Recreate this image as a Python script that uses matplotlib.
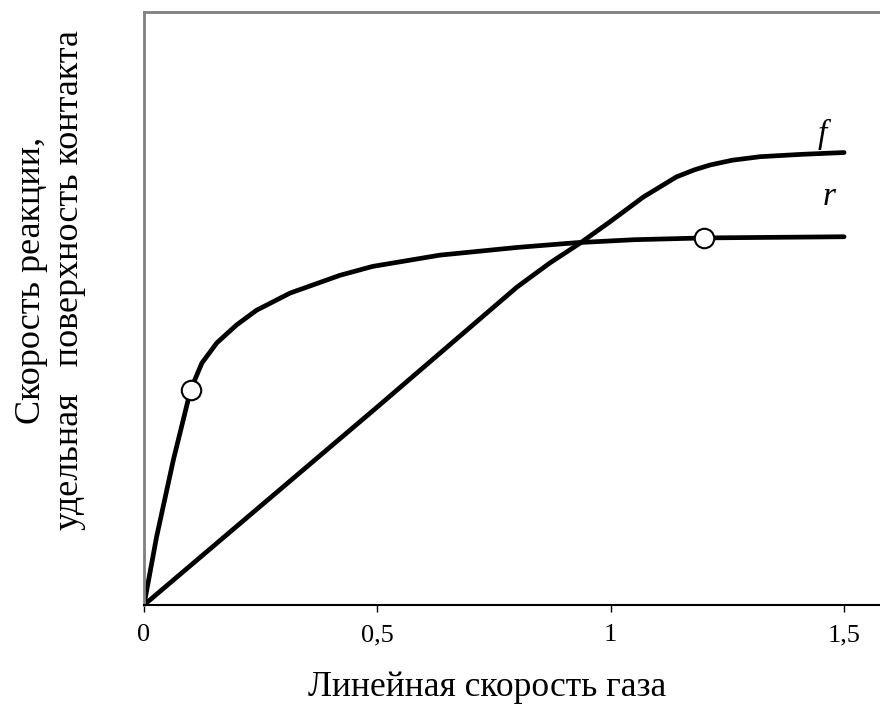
import numpy as np
import matplotlib
matplotlib.use('Agg')
import matplotlib.pyplot as plt

#==============================================================================
# data (arbitrary y units, top of plot = 1)
#==============================================================================

r_x = [0.0, 0.027, 0.063, 0.1, 0.124, 0.156, 0.198, 0.241, 0.313, 0.42,
       0.49, 0.634, 0.8, 0.927, 1.05, 1.2, 1.35, 1.5]
r_y = [0.0, 0.115, 0.245, 0.363, 0.408, 0.442, 0.472, 0.497, 0.526, 0.556,
       0.571, 0.590, 0.603, 0.611, 0.616, 0.619, 0.620, 0.621]

f_x = [0.0, 0.5, 0.799, 0.87, 0.934, 0.998, 1.07, 1.141, 1.18, 1.213,
       1.26, 1.32, 1.41, 1.5]
f_y = [0.0, 0.334, 0.536, 0.577, 0.610, 0.646, 0.688, 0.722, 0.734, 0.742,
       0.750, 0.756, 0.760, 0.763]

mark_x = [0.1, 1.2]
mark_y = [0.363, 0.619]

xticks = [0, 0.5, 1, 1.5]
xtick_labels = ['0', '0,5', '1', '1,5']

#==============================================================================
# styles
#==============================================================================

serif = ['Liberation Serif', 'DejaVu Serif']

line_style = {
    'linewidth':    3.4,
    'linestyle':    '-',
    'color':        'k',
    'solid_capstyle': 'round',
    'solid_joinstyle': 'round',
}

marker_style = {
    'linestyle':        'none',
    'marker':           'o',
    'markersize':       14,
    'markerfacecolor':  'white',
    'markeredgecolor':  'k',
    'markeredgewidth':  1.5,
    'zorder':           5,
}

#==============================================================================
# plot
#==============================================================================

fig = plt.figure(figsize=(8.8, 7.15), dpi=100)
ax = fig.add_axes([144 / 880, 110 / 715, 736 / 880, 593 / 715])

ax.plot(r_x, r_y, **line_style)
ax.plot(f_x, f_y, **line_style)
ax.plot(mark_x, mark_y, **marker_style)

ax.set_xlim(0, 736 / 466.7)
ax.set_ylim(0, 1)

ax.spines['right'].set_visible(False)
ax.spines['left'].set_color('#808080')
ax.spines['top'].set_color('#808080')
ax.spines['left'].set_linewidth(2)
ax.spines['top'].set_linewidth(2)
ax.spines['bottom'].set_color('k')
ax.spines['bottom'].set_linewidth(1.5)

ax.set_yticks([])
ax.set_xticks(xticks)
ax.set_xticklabels(xtick_labels, family=serif, fontsize=19)
ax.tick_params(axis='x', direction='out', length=5, width=1, pad=9)

# curve labels
ax.text(1.453, 0.793, 'f', family=serif, style='italic', fontsize=24,
        ha='center', va='center')
ax.text(1.468, 0.688, 'r', family=serif, style='italic', fontsize=24,
        ha='center', va='center')

# axis labels
fig.text(487 / 880, 1 - 688 / 715, 'Линейная скорость газа', family=serif,
         fontsize=25.5, ha='center', va='center')
fig.text(50 / 880, 1 - 280 / 715,
         'Скорость реакции,\nудельная   поверхность контакта',
         family=serif, fontsize=26, rotation=90, ha='center', va='center',
         multialignment='center', linespacing=1.2)

fig.savefig('out.png', dpi=100)
